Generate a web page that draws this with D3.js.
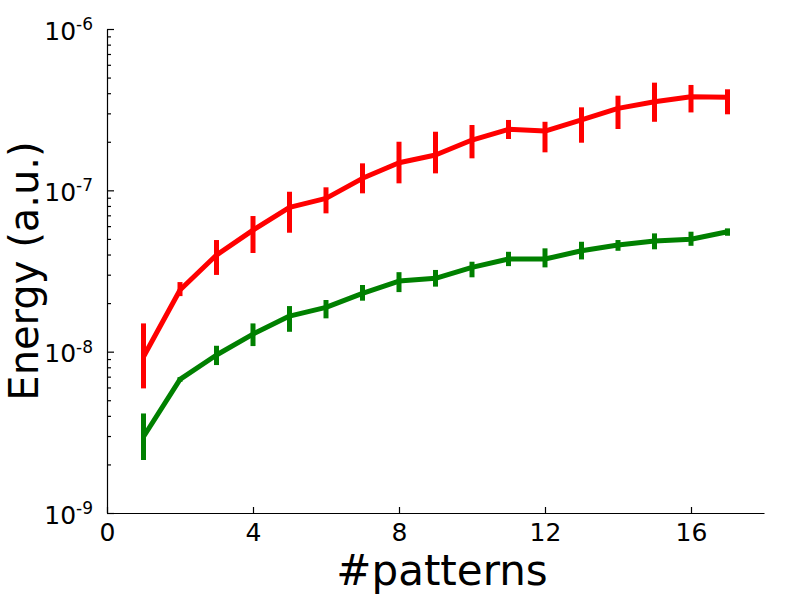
<!DOCTYPE html>
<html>
<head>
<meta charset="utf-8">
<script src="https://cdn.jsdelivr.net/npm/d3@7"></script>
<style>
  body { margin: 0; background: #fff; }
  text { font-family: "DejaVu Sans", sans-serif; fill: #000; }
</style>
</head>
<body>
<div id="chart"></div>
<script>
// Data
const patterns = [1, 2, 3, 4, 5, 6, 7, 8, 9, 10, 11, 12, 13, 14, 15, 16, 17];

const redEnergy = [9.3e-9, 2.41e-8, 3.97e-8, 5.67e-8, 7.84e-8, 8.92e-8, 1.187e-7, 1.483e-7, 1.655e-7,
                   2.05e-7, 2.39e-7, 2.33e-7, 2.73e-7, 3.22e-7, 3.54e-7, 3.80e-7, 3.77e-7];
const redLow    = [5.92e-9, 2.21e-8, 2.99e-8, 4.09e-8, 5.46e-8, 7.20e-8, 9.58e-8, 1.105e-7, 1.274e-7,
                   1.579e-7, 2.08e-7, 1.72e-7, 1.973e-7, 2.40e-7, 2.66e-7, 3.04e-7, 2.96e-7];
const redHigh   = [1.497e-8, 2.70e-8, 4.92e-8, 6.93e-8, 9.80e-8, 1.044e-7, 1.470e-7, 2.001e-7, 2.308e-7,
                   2.54e-7, 2.73e-7, 2.66e-7, 3.27e-7, 3.86e-7, 4.65e-7, 4.50e-7, 4.23e-7];

const greenEnergy = [2.97e-9, 6.73e-9, 9.53e-9, 1.286e-8, 1.662e-8, 1.882e-8, 2.298e-8, 2.74e-8, 2.85e-8,
                     3.33e-8, 3.75e-8, 3.75e-8, 4.22e-8, 4.58e-8, 4.85e-8, 4.97e-8, 5.54e-8];
const greenLow    = [2.13e-9, 6.5e-9, 8.26e-9, 1.083e-8, 1.328e-8, 1.609e-8, 2.07e-8, 2.34e-8, 2.53e-8,
                     2.89e-8, 3.39e-8, 3.33e-8, 3.73e-8, 4.22e-8, 4.31e-8, 4.53e-8, 5.23e-8];
const greenHigh   = [4.14e-9, 6.95e-9, 1.088e-8, 1.497e-8, 1.917e-8, 2.09e-8, 2.59e-8, 3.11e-8, 3.21e-8,
                     3.61e-8, 4.16e-8, 4.37e-8, 4.80e-8, 4.92e-8, 5.41e-8, 5.54e-8, 5.81e-8];

const xTicks = [0, 4, 8, 12, 16];
const yTicks = [1e-9, 1e-8, 1e-7, 1e-6];
const yTickExp = ["-9", "-8", "-7", "-6"];

const series = [
  {color: "#ff0000", values: redEnergy, low: redLow, high: redHigh},
  {color: "#008000", values: greenEnergy, low: greenLow, high: greenHigh}
];

// Dimensions
const margin = {top: 29, right: 22, bottom: 81, left: 107},
      width = 786 - margin.left - margin.right,
      height = 594 - margin.top - margin.bottom;

const svg = d3.select("#chart")
              .append("svg")
              .attr("width", 786)
              .attr("height", 594)
              .append("g")
              .attr("transform", `translate(${margin.left},${margin.top})`);

// Scales
const xScale = d3.scaleLinear().domain([0, 18]).range([0, width]);
const yScale = d3.scaleLog().domain([1e-9, 1e-6]).range([height, 0]);

// Minor y ticks (2..9 in each decade)
const minorTicks = [];
yTicks.slice(0, -1).forEach(d => {
  for (let k = 2; k <= 9; k++) minorTicks.push(d * k);
});

svg.append("g")
   .call(d3.axisLeft(yScale).tickValues(minorTicks).tickSize(-4).tickFormat(""))
   .call(g => g.select(".domain").remove())
   .selectAll("line").attr("stroke-width", 1.2);

// Major y ticks
const yAxis = svg.append("g")
   .call(d3.axisLeft(yScale)
     .tickValues(yTicks)
     .tickSize(-7)
     .tickSizeOuter(0)
     .tickPadding(14)
     .tickFormat(""));

yAxis.selectAll("line").attr("stroke-width", 1.2);
yAxis.select(".domain").attr("stroke-width", 1.2);

yAxis.selectAll(".tick text")
     .attr("dy", "0.4em")
     .style("font-size", "25px")
     .each(function(d, i) {
       const t = d3.select(this);
       t.append("tspan").text("10");
       t.append("tspan")
        .attr("dy", "-0.55em")
        .style("font-size", "17px")
        .text(yTickExp[i]);
     });

// x axis
const xAxis = svg.append("g")
   .attr("transform", `translate(0,${height})`)
   .call(d3.axisBottom(xScale)
     .tickValues(xTicks)
     .tickSize(-6)
     .tickSizeOuter(0)
     .tickPadding(10));

xAxis.selectAll("line").attr("stroke-width", 1.2);
xAxis.select(".domain").attr("stroke-width", 1.2);
xAxis.selectAll("text").style("font-size", "25px");

// Lines and error bars
const line = d3.line()
               .x((d, i) => xScale(patterns[i]))
               .y(d => yScale(d));

series.forEach(s => {
  svg.append("path")
     .datum(s.values)
     .attr("fill", "none")
     .attr("stroke", s.color)
     .attr("stroke-width", 5)
     .attr("stroke-linejoin", "round")
     .attr("d", line);

  svg.selectAll(null)
     .data(patterns)
     .enter()
     .append("line")
     .attr("x1", d => xScale(d))
     .attr("x2", d => xScale(d))
     .attr("y1", (d, i) => yScale(s.low[i]))
     .attr("y2", (d, i) => yScale(s.high[i]))
     .attr("stroke", s.color)
     .attr("stroke-width", 5);
});

// Axis labels
svg.append("text")
   .attr("x", 442 - margin.left)
   .attr("y", 585 - margin.top)
   .attr("text-anchor", "middle")
   .style("font-size", "42px")
   .text("#patterns");

svg.append("text")
   .attr("transform", "rotate(-90)")
   .attr("x", -height / 2)
   .attr("y", 38 - margin.left)
   .attr("text-anchor", "middle")
   .style("font-size", "40px")
   .text("Energy (a.u.)");
</script>
</body>
</html>
